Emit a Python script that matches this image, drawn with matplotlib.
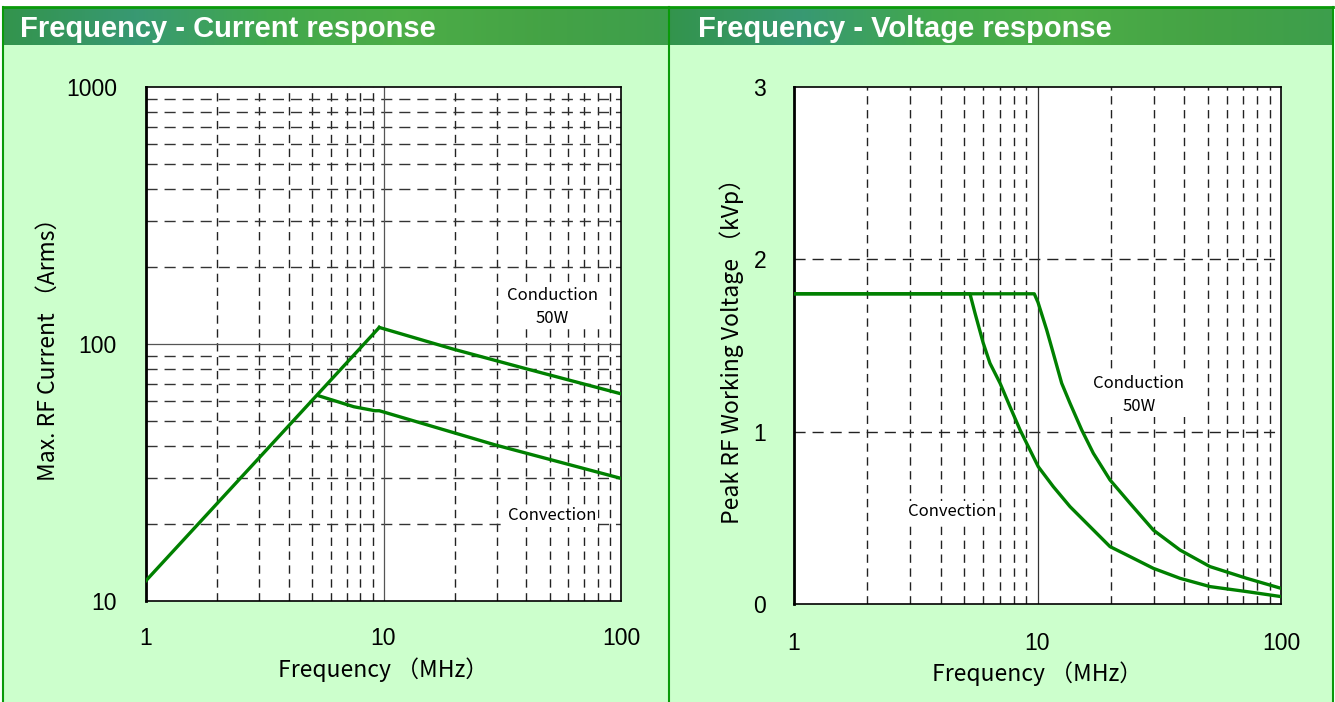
import numpy as np
import matplotlib
matplotlib.use("Agg")
import matplotlib.pyplot as plt
from matplotlib.patches import Rectangle
from matplotlib.ticker import NullLocator

# ---------------- data ----------------
titles = ["Frequency - Current response", "Frequency - Voltage response"]
x_label = "Frequency （MHz）"
y_label_current = "Max. RF Current （Arms）"
y_label_voltage = "Peak RF Working Voltage （kVp）"
x_ticks = [1, 10, 100]
x_tick_labels = ["1", "10", "100"]
cur_y_ticks = [10, 100, 1000]
cur_y_tick_labels = ["10", "100", "1000"]
volt_y_ticks = [0, 1, 2, 3]
volt_y_tick_labels = ["0", "1", "2", "3"]
region_labels = ["Conduction\n50W", "Convection"]

# current chart
rise_f = [1, 9.6]
rise_i = [12, 116]
cond_cur_f = [9.6, 19.6, 38.7, 100]
cond_cur_i = [116, 95.6, 80.7, 64]
conv_cur_f = [5.3, 7.5, 9.2, 9.6, 29.5, 100]
conv_cur_i = [63, 57, 55, 55, 40.5, 30]

# voltage chart
cond_volt_f = [1, 9.7, 10.05, 10.91, 11.61, 12.57, 13.6, 15.19, 16.95, 19.85,
               23.99, 29.9, 38.5, 51.1, 72.3, 100]
cond_volt_v = [1.8, 1.8, 1.75, 1.59, 1.455, 1.281, 1.165, 1.01, 0.875, 0.72,
               0.584, 0.429, 0.313, 0.217, 0.149, 0.091]
conv_volt_f = [1, 5.28, 5.54, 5.99, 6.38, 7.02, 7.71, 8.48, 9.17, 10.07, 11.61,
               13.6, 16.43, 19.85, 23.99, 29.9, 38.5, 51.1, 72.3, 100]
conv_volt_v = [1.8, 1.8, 1.687, 1.513, 1.397, 1.281, 1.145, 1.01, 0.913, 0.797, 0.681,
               0.565, 0.449, 0.333, 0.275, 0.207, 0.149, 0.101, 0.072, 0.043]

# ---------------- style ----------------
W, H = 1335, 702
fig = plt.figure(figsize=(W / 100, H / 100), dpi=100)
fig.patch.set_facecolor("white")

bg = fig.add_axes([0, 0, 1, 1], zorder=-10)
bg.axis("off")

LIGHT = "#ccffcc"
BORDER = "#0a9a0a"
bg.add_patch(Rectangle((3, 45), W - 5, H - 45, facecolor=LIGHT, edgecolor="none"))
grad = np.linspace(0, 1, 400)
cols = np.array([
    [0.20, 0.58, 0.30],
    [0.22, 0.60, 0.45],
    [0.26, 0.66, 0.30],
    [0.30, 0.68, 0.28],
    [0.27, 0.64, 0.27],
    [0.24, 0.62, 0.30],
])
pos = np.linspace(0, 1, len(cols))
img_row = np.stack([np.interp(grad, pos, cols[:, k]) for k in range(3)], axis=-1)
for x0, x1 in [(3, 669), (669, W - 2)]:
    bg.imshow(img_row[np.newaxis, :, :], extent=(x0, x1, 45, 7), aspect="auto",
              interpolation="bilinear", zorder=1)
bg.set_xlim(0, W)
bg.set_ylim(H, 0)
bg.plot([3, W - 2], [7, 7], color=BORDER, lw=2, zorder=3)
for xv in [3, 669, W - 2]:
    bg.plot([xv, xv], [7, H], color=BORDER, lw=1.5, zorder=3)

bg.text(20, 29, titles[0], color="white", fontsize=21, fontweight="bold",
        family="Liberation Sans", va="center", ha="left", zorder=4)
bg.text(698, 29, titles[1], color="white", fontsize=21, fontweight="bold",
        family="Liberation Sans", va="center", ha="left", zorder=4)

CJK = ["Noto Sans CJK JP", "DejaVu Sans"]
TICKFONT = "Liberation Sans"
LINE = "#008000"
DASH = (0, (6, 4))
TICK_FS = 16.5
LABEL_FS = 16.5
REGION_FS = 12
BOX = dict(facecolor="white", edgecolor="none", pad=1.5)


def px_axes(l, t, r, b):
    return fig.add_axes([l / W, 1 - b / H, (r - l) / W, (b - t) / H])


def style_axes(ax):
    ax.set_facecolor("white")
    for s in ax.spines.values():
        s.set_color("black")
        s.set_linewidth(1.2)
    ax.spines["left"].set_linewidth(2)
    ax.tick_params(which="both", length=0)
    ax.xaxis.set_minor_locator(NullLocator())
    ax.yaxis.set_minor_locator(NullLocator())


minor_dec = [2, 3, 4, 5, 6, 7, 8, 9, 20, 30, 40, 50, 60, 70, 80, 90]

# ---------- left: current ----------
ax1 = px_axes(146, 87, 621, 601)
ax1.set_xscale("log")
ax1.set_yscale("log")
ax1.set_xlim(1, 100)
ax1.set_ylim(10, 1000)
style_axes(ax1)
for xv in minor_dec:
    ax1.axvline(xv, color="#222222", lw=1, ls=DASH, zorder=1)
for yv in [20, 30, 40, 50, 60, 70, 80, 90, 200, 300, 400, 500, 600, 700, 800, 900]:
    ax1.axhline(yv, color="#333333", lw=1, ls=(0, (8, 5)), zorder=1)
ax1.axvline(10, color="#555555", lw=0.9, zorder=1)
ax1.axhline(100, color="#555555", lw=0.9, zorder=1)
ax1.plot(rise_f, rise_i, color=LINE, lw=2.4, zorder=3)
ax1.plot(cond_cur_f, cond_cur_i, color=LINE, lw=2.4, zorder=3)
ax1.plot(conv_cur_f, conv_cur_i, color=LINE, lw=2.4, zorder=3)
ax1.set_xticks(x_ticks)
ax1.set_xticklabels(x_tick_labels, family=TICKFONT, fontsize=TICK_FS)
ax1.set_yticks(cur_y_ticks)
ax1.set_yticklabels(cur_y_tick_labels, family=TICKFONT, fontsize=TICK_FS)
ax1.tick_params(axis="x", pad=19)
ax1.tick_params(axis="y", pad=21)
ax1.set_xlabel(x_label, family=CJK, fontsize=LABEL_FS, labelpad=5)
ax1.set_ylabel(y_label_current, family=CJK, fontsize=LABEL_FS, labelpad=4)
ax1.text(0.855, 1 - (307 - 87) / 514, region_labels[0], transform=ax1.transAxes,
         fontsize=REGION_FS, family=CJK, ha="center", va="center", linespacing=1.5,
         bbox=BOX, zorder=2)
ax1.text(0.855, 1 - (516 - 87) / 514, region_labels[1], transform=ax1.transAxes,
         fontsize=REGION_FS, family=CJK, ha="center", va="center", bbox=BOX, zorder=2)

# ---------- right: voltage ----------
ax2 = px_axes(794, 87, 1281, 604)
ax2.set_xscale("log")
ax2.set_xlim(1, 100)
ax2.set_ylim(0, 3)
style_axes(ax2)
for xv in minor_dec:
    ax2.axvline(xv, color="#222222", lw=1, ls=DASH, zorder=1)
for yv in [1, 2]:
    ax2.axhline(yv, color="#222222", lw=1, ls=(0, (8, 5)), zorder=1)
ax2.axvline(10, color="#333333", lw=0.9, zorder=1)
ax2.plot(cond_volt_f, cond_volt_v, color=LINE, lw=2.4, zorder=3)
ax2.plot(conv_volt_f, conv_volt_v, color=LINE, lw=2.4, zorder=3)
ax2.set_xticks(x_ticks)
ax2.set_xticklabels(x_tick_labels, family=TICKFONT, fontsize=TICK_FS)
ax2.set_yticks(volt_y_ticks)
ax2.set_yticklabels(volt_y_tick_labels, family=TICKFONT, fontsize=TICK_FS)
ax2.tick_params(axis="x", pad=20)
ax2.tick_params(axis="y", pad=20)
ax2.set_xlabel(x_label, family=CJK, fontsize=LABEL_FS, labelpad=5)
ax2.set_ylabel(y_label_voltage, family=CJK, fontsize=LABEL_FS, labelpad=7)
ax2.text((1139 - 794) / 487, 1 - (395 - 87) / 517, region_labels[0], transform=ax2.transAxes,
         fontsize=REGION_FS, family=CJK, ha="center", va="center", linespacing=1.5,
         bbox=BOX, zorder=2)
ax2.text((952 - 794) / 487, 1 - (511 - 87) / 517, region_labels[1], transform=ax2.transAxes,
         fontsize=REGION_FS, family=CJK, ha="center", va="center", bbox=BOX, zorder=2)

fig.savefig("out.png", dpi=100)
